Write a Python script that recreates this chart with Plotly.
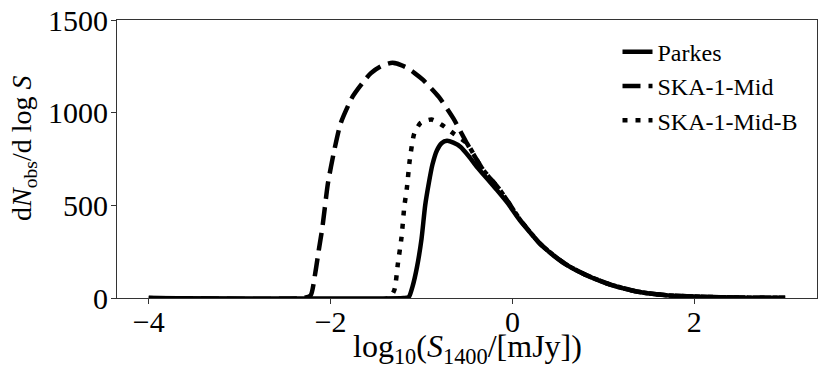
import plotly.graph_objects as go

# Parkes (solid)
parkes_x = [-4.0, -1.2, -1.14, -1.10, -1.05, -1.0, -0.96, -0.92, -0.88, -0.83, -0.78,
            -0.72, -0.65, -0.57, -0.48, -0.39, -0.28, -0.17, -0.05, 0.08, 0.2, 0.3,
            0.45, 0.6, 0.8, 1.04, 1.2, 1.4, 1.69, 2.0, 2.3, 2.6, 3.0]
parkes_y = [0, 0, 5, 60, 167, 320, 500, 620, 720, 797, 835,
            848, 838, 815, 765, 707, 645, 582, 510, 420, 350, 294,
            230, 177, 125, 78, 55, 32, 15, 8, 4, 2, 1]

# SKA-1-Mid (dashed)
mid_x = [-4.0, -2.3, -2.22, -2.17, -2.13, -2.09, -2.03, -1.96, -1.89, -1.76, -1.65,
         -1.56, -1.45, -1.32, -1.18, -1.08, -0.98, -0.81, -0.65, -0.5, -0.4, -0.32,
         -0.15, -0.05, 0.08, 0.2, 0.3, 0.45, 0.6, 0.8, 1.04, 1.2, 1.4, 1.69, 2.0,
         2.3, 2.6, 3.0]
mid_y = [0, 0, 14, 132, 260, 383, 618, 797, 942, 1085, 1160,
         1212, 1250, 1269, 1247, 1215, 1175, 1085, 969, 834, 752, 690,
         591, 520, 425, 352, 295, 231, 178, 126, 79, 55, 32, 15, 8,
         4, 2, 1]

# SKA-1-Mid-B (dotted)
midb_x = [-4.0, -1.36, -1.30, -1.26, -1.22, -1.19, -1.16, -1.13, -1.08, -1.01, -0.89,
          -0.77, -0.65, -0.5, -0.4, -0.32, -0.15, -0.05, 0.08, 0.2, 0.3, 0.45, 0.6,
          0.8, 1.04, 1.2, 1.4, 1.69, 2.0, 2.3, 2.6, 3.0]
midb_y = [0, 0, 42, 186, 329, 491, 599, 743, 888, 945, 963,
          932, 888, 834, 752, 690, 591, 520, 425, 352, 295, 231, 178,
          126, 79, 55, 32, 15, 8, 4, 2, 1]

x_title = 'log<sub>10</sub>(<i>S</i><sub>1400</sub>/[mJy])'
y_title = 'd<i>N</i><sub>obs</sub>/d log <i>S</i>'
font_family = "Liberation Serif"

fig = go.Figure()
fig.add_trace(go.Scatter(x=parkes_x, y=parkes_y, mode='lines', name='Parkes',
                         line=dict(color='black', width=4.5, shape='spline', smoothing=0.6)))
fig.add_trace(go.Scatter(x=mid_x, y=mid_y, mode='lines', name='SKA-1-Mid',
                         line=dict(color='black', width=4.5, dash='18px,8px', shape='spline', smoothing=0.6)))
fig.add_trace(go.Scatter(x=midb_x, y=midb_y, mode='lines', name='SKA-1-Mid-B',
                         line=dict(color='black', width=4.5, dash='5px,8px', shape='spline', smoothing=0.6)))

# page body adds an 8px offset, so the figure is sized to fit inside the window
fig.update_layout(
    width=822, height=375,
    margin=dict(l=109, r=13, t=12, b=85),
    paper_bgcolor='white', plot_bgcolor='white',
    font=dict(family=font_family, size=30, color='black'),
    legend=dict(x=0.715, y=0.965, xanchor='left', yanchor='top',
                font=dict(size=24), bgcolor='rgba(0,0,0,0)'),
)
fig.add_annotation(text=x_title, xref='paper', yref='paper', x=0.5, y=0,
                   xanchor='center', yanchor='middle', yshift=-50,
                   showarrow=False, font=dict(size=32))
fig.add_annotation(text=y_title, xref='paper', yref='paper', x=0, y=0.5,
                   xanchor='center', yanchor='middle', xshift=-94, yshift=10,
                   textangle=-90, showarrow=False, font=dict(size=28))
fig.update_xaxes(
    range=[-4.35, 3.35], tickvals=[-4, -2, 0, 2],
    showgrid=False, zeroline=False, automargin=False,
    showline=True, linecolor='#333', linewidth=1, mirror=True,
    ticks='outside', ticklen=5, tickcolor='#333', ticklabelstandoff=-8,
    ticklabeloverflow='allow',
)
fig.update_yaxes(
    range=[0, 1500], tickvals=[0, 500, 1000, 1500],
    showgrid=False, zeroline=False, automargin=False,
    showline=True, linecolor='#333', linewidth=1, mirror=True,
    ticks='outside', ticklen=5, tickcolor='#333', ticklabelstandoff=-3,
    ticklabeloverflow='allow',
)

fig.write_html("out.html")
